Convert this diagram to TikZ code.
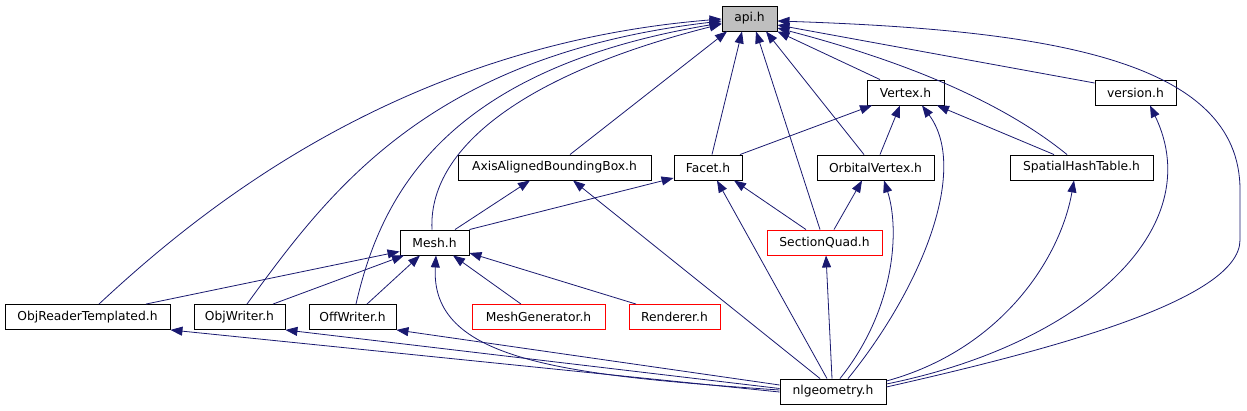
\documentclass[tikz,border=0pt]{standalone}
\usepackage{fontspec}
\setmainfont{DejaVu Sans}
\usetikzlibrary{arrows.meta}
\definecolor{edgeblue}{HTML}{191970}
\definecolor{apigray}{HTML}{BFBFBF}
\tikzset{
  hbox/.style={draw=black, line width=0.9pt, fill=white, minimum height=25pt, inner sep=0pt, font=\fontsize{12.3}{14}\selectfont},
  redbox/.style={hbox, draw={rgb,255:red,255;green,0;blue,0}},
  dep/.style={draw=edgeblue, line width=0.8pt, -{Triangle[length=12pt,width=9pt]}, fill=none},
}
\begin{document}
\begin{tikzpicture}[x=1pt,y=-1pt]
\useasboundingbox (0,0) rectangle (1247,411);
\fill[white] (0,0) rectangle (1247,411);
% nodes
\node[hbox, fill=apigray, minimum width=55pt] (api) at (749.5,18.5) {api.h};
\node[hbox, minimum width=77pt] (vertex) at (905.5,92.5) {Vertex.h};
\node[hbox, minimum width=81pt] (version) at (1135.5,92.5) {version.h};
\node[hbox, minimum width=193pt] (aabb) at (554.5,167.5) {AxisAlignedBoundingBox.h};
\node[hbox, minimum width=68pt] (facet) at (708,167.5) {Facet.h};
\node[hbox, minimum width=117pt] (orbital) at (875.5,167.5) {OrbitalVertex.h};
\node[hbox, minimum width=143pt] (sht) at (1081.5,167.5) {SpatialHashTable.h};
\node[hbox, minimum width=69pt] (mesh) at (434.5,242.5) {Mesh.h};
\node[redbox, minimum width=115pt] (squad) at (824.5,242.5) {SectionQuad.h};
\node[hbox, minimum width=165pt] (objr) at (87.5,317) {ObjReaderTemplated.h};
\node[hbox, minimum width=91pt] (objw) at (239.5,317) {ObjWriter.h};
\node[hbox, minimum width=87pt] (offw) at (352.5,317) {OffWriter.h};
\node[redbox, minimum width=133pt] (mgen) at (538.5,317) {MeshGenerator.h};
\node[redbox, minimum width=91pt] (rend) at (674.5,317) {Renderer.h};
\node[hbox, minimum width=106pt] (nlg) at (833,391.5) {nlgeometry.h};
% edges into api.h
\draw[dep] ([xshift=-25.5pt]vertex.north) -- (api.south east);
\draw[dep] ([yshift=9.5pt]version.west) -- ([yshift=-6.5pt]api.east);
\draw[dep] ([xshift=15.5pt]aabb.north) -- ([xshift=-22.5pt]api.south);
\draw[dep] ([xshift=4pt]facet.north) -- ([xshift=-7.5pt]api.south);
\draw[dep] ([xshift=-11.5pt]orbital.north) -- ([xshift=16.5pt]api.south);
\draw[dep] ([xshift=-4.5pt]squad.north) -- ([xshift=6.5pt]api.south);
\draw[dep] ([xshift=-14.5pt]sht.north) .. controls (1000,100) and (900,60) .. ([yshift=-9.5pt]api.east);
\draw[dep] ([xshift=-2.5pt]mesh.north) .. controls (428,150) and (520,75) .. ([yshift=-5.5pt]api.west);
\draw[dep] ([xshift=11.5pt]objr.north) .. controls (200,210) and (400,45) .. ([yshift=-0.5pt]api.west);
\draw[dep] ([xshift=7.5pt]objw.north) .. controls (330,190) and (430,55) .. ([yshift=-2.5pt]api.west);
\draw[dep] ([xshift=3.5pt]offw.north) .. controls (380,200) and (440,70) .. ([yshift=-4.5pt]api.west);
\draw[dep] ([yshift=4.5pt]nlg.east) .. controls (1050,350) and (1240,300) .. (1240,240) -- (1240,190) .. controls (1240,60) and (1050,30) .. ([yshift=-2.5pt]api.east);
% edges into Vertex.h
\draw[dep] ([xshift=32pt]facet.north) -- ([xshift=-33.5pt]vertex.south);
\draw[dep] ([xshift=4.5pt]orbital.north) -- ([xshift=-5.5pt]vertex.south);
\draw[dep] ([xshift=-27.5pt]sht.north) -- ([xshift=31.5pt]vertex.south);
\draw[dep] ([xshift=15pt]nlg.north) .. controls (920,290) and (970,170) .. ([xshift=16.5pt]vertex.south);
% into version.h
\draw[dep] ([yshift=7.5pt]nlg.east) .. controls (1080,345) and (1210,230) .. ([xshift=14.5pt]version.south);
% into AxisAlignedBoundingBox.h
\draw[dep] ([xshift=20.5pt]mesh.north) -- ([xshift=-24.5pt]aabb.south);
\draw[dep] ([xshift=-13pt]nlg.north) -- ([xshift=18.5pt]aabb.south);
% into Facet.h
\draw[dep] (mesh.north east) -- ([yshift=-10.5pt]facet.west);
\draw[dep] ([xshift=-18.5pt]squad.north) -- ([xshift=26pt]facet.south);
\draw[dep] ([xshift=-6pt]nlg.north) -- ([xshift=9pt]facet.south);
% into OrbitalVertex.h
\draw[dep] ([xshift=9.5pt]squad.north) -- ([xshift=-13.5pt]orbital.south);
\draw[dep] ([xshift=7pt]nlg.north) .. controls (895,310) and (900,230) .. ([xshift=8.5pt]orbital.south);
% into SpatialHashTable.h
\draw[dep] ([yshift=10.5pt]nlg.east) .. controls (1000,350) and (1060,260) .. ([xshift=-7.5pt]sht.south);
% into SectionQuad.h
\draw[dep] ([xshift=-1pt]nlg.north) -- ([xshift=1.5pt]squad.south);
% into Mesh.h
\draw[dep] ([xshift=58.5pt]objr.north) -- ([yshift=-9pt]mesh.west);
\draw[dep] ([xshift=33.5pt]objw.north) -- ([xshift=-30.5pt]mesh.south);
\draw[dep] ([xshift=14.5pt]offw.north) -- ([xshift=-14.5pt]mesh.south);
\draw[dep] ([yshift=1.5pt]nlg.west) .. controls (560,375) and (430,360) .. ([xshift=1.5pt]mesh.south);
\draw[dep] ([xshift=-17.5pt]mgen.north) -- ([xshift=18.5pt]mesh.south);
\draw[dep] ([xshift=-38.5pt]rend.north) -- ([yshift=-10.5pt]mesh.east);
% into ObjReaderTemplated.h, ObjWriter.h, OffWriter.h
\draw[dep] ([yshift=-0.5pt]nlg.west) -- (objr.south east);
\draw[dep] ([yshift=3pt]nlg.west) -- (objw.south east);
\draw[dep] ([yshift=6.5pt]nlg.west) -- (offw.south east);
\end{tikzpicture}
\end{document}
